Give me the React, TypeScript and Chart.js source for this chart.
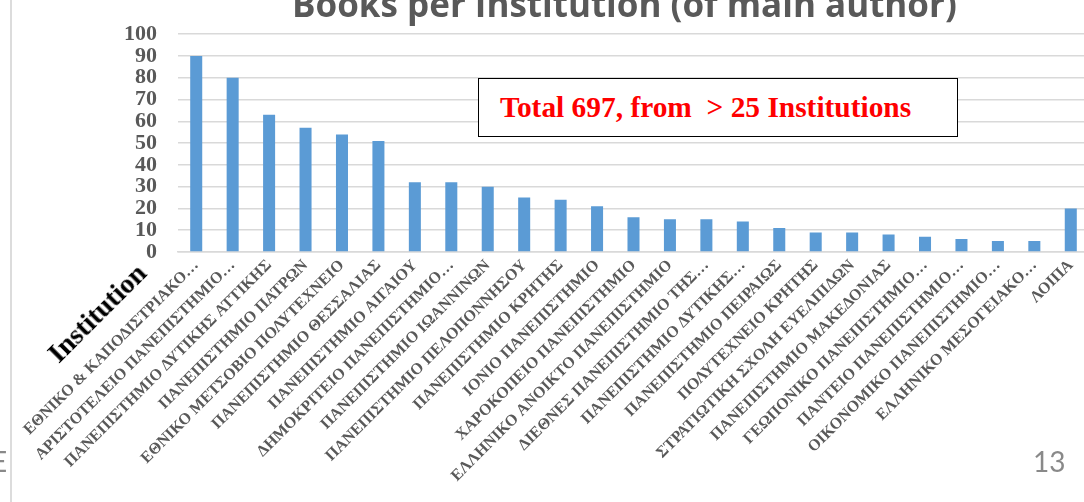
import { useEffect, useRef } from "react";
import { Chart, registerables } from "chart.js";

Chart.register(...registerables);

const titleText = "Books per Institution (of main author)";
const noteText = "Total 697, from  > 25 Institutions";
const axisTitle = "Institution";
const pageNumber = "13";

const institutions = [
  "ΕΘΝΙΚΟ & ΚΑΠΟΔΙΣΤΡΙΑΚΟ…",
  "ΑΡΙΣΤΟΤΕΛΕΙΟ ΠΑΝΕΠΙΣΤΗΜΙΟ…",
  "ΠΑΝΕΠΙΣΤΗΜΙΟ ΔΥΤΙΚΗΣ ΑΤΤΙΚΗΣ",
  "ΠΑΝΕΠΙΣΤΗΜΙΟ ΠΑΤΡΩΝ",
  "ΕΘΝΙΚΟ ΜΕΤΣΟΒΙΟ ΠΟΛΥΤΕΧΝΕΙΟ",
  "ΠΑΝΕΠΙΣΤΗΜΙΟ ΘΕΣΣΑΛΙΑΣ",
  "ΠΑΝΕΠΙΣΤΗΜΙΟ ΑΙΓΑΙΟΥ",
  "ΔΗΜΟΚΡΙΤΕΙΟ ΠΑΝΕΠΙΣΤΗΜΙΟ…",
  "ΠΑΝΕΠΙΣΤΗΜΙΟ ΙΩΑΝΝΙΝΩΝ",
  "ΠΑΝΕΠΙΣΤΗΜΙΟ ΠΕΛΟΠΟΝΝΗΣΟΥ",
  "ΠΑΝΕΠΙΣΤΗΜΙΟ ΚΡΗΤΗΣ",
  "ΙΟΝΙΟ ΠΑΝΕΠΙΣΤΗΜΙΟ",
  "ΧΑΡΟΚΟΠΕΙΟ ΠΑΝΕΠΙΣΤΗΜΙΟ",
  "ΕΛΛΗΝΙΚΟ ΑΝΟΙΚΤΟ ΠΑΝΕΠΙΣΤΗΜΙΟ",
  "ΔΙΕΘΝΕΣ ΠΑΝΕΠΙΣΤΗΜΙΟ ΤΗΣ…",
  "ΠΑΝΕΠΙΣΤΗΜΙΟ ΔΥΤΙΚΗΣ…",
  "ΠΑΝΕΠΙΣΤΗΜΙΟ ΠΕΙΡΑΙΩΣ",
  "ΠΟΛΥΤΕΧΝΕΙΟ ΚΡΗΤΗΣ",
  "ΣΤΡΑΤΙΩΤΙΚΗ ΣΧΟΛΗ ΕΥΕΛΠΙΔΩΝ",
  "ΠΑΝΕΠΙΣΤΗΜΙΟ ΜΑΚΕΔΟΝΙΑΣ",
  "ΓΕΩΠΟΝΙΚΟ ΠΑΝΕΠΙΣΤΗΜΙΟ…",
  "ΠΑΝΤΕΙΟ ΠΑΝΕΠΙΣΤΗΜΙΟ…",
  "ΟΙΚΟΝΟΜΙΚΟ ΠΑΝΕΠΙΣΤΗΜΙΟ…",
  "ΕΛΛΗΝΙΚΟ ΜΕΣΟΓΕΙΑΚΟ…",
  "ΛΟΙΠΑ",
];

const books = [90, 80, 63, 57, 54, 51, 32, 32, 30, 25, 24, 21, 16, 15, 15, 14, 11, 9, 9, 8, 7, 6, 5, 5, 20];

const yMin = 0;
const yMax = 100;
const yStep = 10;

const SERIF = '"Liberation Serif", "Times New Roman", serif';

export default function App() {
  const canvasRef = useRef<HTMLCanvasElement | null>(null);

  useEffect(() => {
    const canvas = canvasRef.current;
    if (!canvas) return;
    const chart = new Chart(canvas, {
      type: "bar",
      data: {
        labels: institutions,
        datasets: [
          {
            label: "Books",
            data: books,
            backgroundColor: "#5B9BD5",
            borderWidth: 0,
            barPercentage: 0.33,
            categoryPercentage: 1,
          },
        ],
      },
      options: {
        animation: false,
        responsive: false,
        maintainAspectRatio: false,
        layout: { padding: { left: 0, right: 11, top: 19, bottom: 0 } },
        plugins: {
          legend: { display: false },
          tooltip: { enabled: false },
          title: { display: false },
        },
        scales: {
          x: {
            offset: true,
            grid: { display: false, drawTicks: false },
            border: { color: "#d9d9d9", width: 1.5 },
            ticks: {
              autoSkip: false,
              minRotation: 45,
              maxRotation: 45,
              color: "#595959",
              padding: 4,
              font: { family: SERIF, weight: "bold", size: 16 },
            },
            afterFit: (s: any) => {
              s.height = 250;
            },
          },
          y: {
            min: yMin,
            max: yMax,
            ticks: {
              stepSize: yStep,
              autoSkip: false,
              color: "#595959",
              padding: 21,
              font: { family: SERIF, weight: "bold", size: 22 },
            },
            grid: { color: "#d9d9d9", lineWidth: 1.5, drawTicks: false },
            border: { display: false },
            afterFit: (s: any) => {
              s.width = 178;
            },
          },
        },
      },
    });
    return () => chart.destroy();
  }, []);

  return (
    <div
      style={{
        position: "fixed",
        left: 0,
        top: 0,
        width: 1084,
        height: 502,
        overflow: "hidden",
        background: "#fff",
      }}
    >
      <div style={{ position: "absolute", left: 10, top: 0, width: 2, height: 502, background: "#dcdcdc" }} />
      <canvas
        ref={canvasRef}
        width={1100}
        height={502}
        style={{ position: "absolute", left: 0, top: 0, width: 1100, height: 502 }}
      />
      <div
        style={{
          position: "absolute",
          left: 292,
          top: -14,
          fontFamily: '"Open Sans", sans-serif',
          fontWeight: 700,
          fontSize: 35,
          lineHeight: "35px",
          color: "#595959",
          whiteSpace: "nowrap",
        }}
      >
        {titleText}
      </div>
      <div
        style={{
          position: "absolute",
          left: 478,
          top: 78,
          width: 480,
          height: 59,
          boxSizing: "border-box",
          border: "1px solid #000",
          background: "#fff",
          display: "flex",
          alignItems: "center",
          paddingLeft: 21,
          fontFamily: SERIF,
          fontWeight: 700,
          fontSize: 29.4,
          color: "#ff0000",
          whiteSpace: "pre",
        }}
      >
        {noteText}
      </div>
      <div
        style={{
          position: "absolute",
          left: 97,
          top: 313,
          transform: "translate(-50%, -50%) rotate(-45deg)",
          fontFamily: SERIF,
          fontWeight: 700,
          fontSize: 28,
          color: "#000",
          whiteSpace: "nowrap",
        }}
      >
        {axisTitle}
      </div>
      <div
        style={{
          position: "absolute",
          left: 1033,
          top: 447,
          fontFamily: 'Lato, "Liberation Sans", sans-serif',
          fontSize: 28,
          lineHeight: "28px",
          color: "#898989",
        }}
      >
        {pageNumber}
      </div>
      <div
        style={{
          position: "absolute",
          left: -9,
          top: 447,
          fontFamily: 'Lato, "Liberation Sans", sans-serif',
          fontSize: 28,
          lineHeight: "28px",
          color: "#898989",
        }}
      >
        E
      </div>
    </div>
  );
}
